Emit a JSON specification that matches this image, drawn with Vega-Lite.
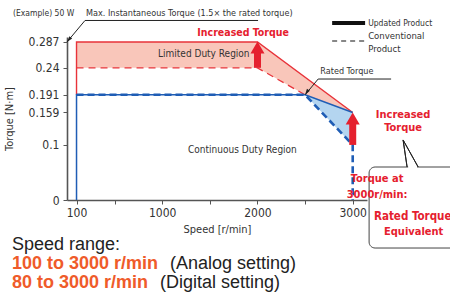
{
  "$schema": "https://vega.github.io/schema/vega-lite/v6.json",
  "width": 300,
  "height": 163,
  "autosize": "none",
  "padding": {"left": 67, "top": 37, "right": 83, "bottom": 98},
  "background": "white",
  "config": {
    "view": {"stroke": null},
    "axis": {"grid": false, "domainColor": "#555", "domainWidth": 1.6, "tickColor": "#555", "tickSize": 4, "labelColor": "#333", "titleColor": "#333", "labelFont": "Liberation Sans Narrow, DejaVu Sans Condensed, sans-serif", "titleFont": "Liberation Sans Narrow, DejaVu Sans Condensed, sans-serif", "labelFontSize": 12, "titleFontSize": 11, "titleFontWeight": "normal", "labelOverlap": false},
    "text": {"font": "Liberation Sans Narrow, DejaVu Sans Condensed, sans-serif"}
  },
  "datasets": {
    "pink": [
      {"speed": 100, "top": 0.287, "bottom": 0.24},
      {"speed": 2000, "top": 0.287, "bottom": 0.24},
      {"speed": 2500, "top": 0.223, "bottom": 0.191},
      {"speed": 3000, "top": 0.159, "bottom": 0.159}
    ],
    "blue": [
      {"speed": 2500, "top": 0.191, "bottom": 0.191},
      {"speed": 3000, "top": 0.159, "bottom": 0.1}
    ],
    "curves": [
      {"series": "updated max", "i": 1, "speed": 100, "torque": 0.191},
      {"series": "updated max", "i": 2, "speed": 100, "torque": 0.287},
      {"series": "updated max", "i": 3, "speed": 2000, "torque": 0.287},
      {"series": "updated max", "i": 4, "speed": 3000, "torque": 0.159},
      {"series": "updated rated", "i": 1, "speed": 100, "torque": 0},
      {"series": "updated rated", "i": 2, "speed": 100, "torque": 0.191},
      {"series": "updated rated", "i": 3, "speed": 2500, "torque": 0.191},
      {"series": "updated rated", "i": 4, "speed": 3000, "torque": 0.159},
      {"series": "conventional rated", "i": 1, "speed": 100, "torque": 0.191},
      {"series": "conventional rated", "i": 2, "speed": 2500, "torque": 0.191},
      {"series": "conventional rated", "i": 3, "speed": 3000, "torque": 0.1},
      {"series": "conventional rated", "i": 4, "speed": 3000, "torque": 0},
      {"series": "conventional max", "i": 1, "speed": 100, "torque": 0.24},
      {"series": "conventional max", "i": 2, "speed": 2000, "torque": 0.24},
      {"series": "conventional max", "i": 3, "speed": 2500, "torque": 0.191}
    ],
    "arrows": [
      {"speed": 2000, "from": 0.24, "to": 0.268, "head": 0.277},
      {"speed": 3000, "from": 0.1, "to": 0.138, "head": 0.148}
    ],
    "leaders": [
      {"id": "max", "i": 1, "speed": 0, "torque": 0.287},
      {"id": "max", "i": 2, "speed": 189, "torque": 0.326},
      {"id": "max", "i": 3, "speed": 2006, "torque": 0.326},
      {"id": "rated", "i": 1, "speed": 2500, "torque": 0.191},
      {"id": "rated", "i": 2, "speed": 2637, "torque": 0.2197},
      {"id": "rated", "i": 3, "speed": 3403, "torque": 0.2197},
      {"id": "pointer", "i": 1, "speed": 3571, "torque": 0.0599},
      {"id": "pointer", "i": 2, "speed": 3529, "torque": 0.109},
      {"id": "pointer", "i": 3, "speed": 3687, "torque": 0.0599}
    ],
    "heads": [
      {"speed": 0, "torque": 0.287, "angle": 219},
      {"speed": 2500, "torque": 0.191, "angle": 214}
    ],
    "legend": [
      {"kind": "Updated Product", "x1": 2784, "x2": 3130, "y": 0.3214},
      {"kind": "Conventional Product", "x1": 2784, "x2": 3130, "y": 0.2887}
    ],
    "box": [{"x1": 3172, "x2": 4200, "y1": 0.0599, "y2": -0.0872}],
    "gap": [{"x1": 3582, "x2": 3676, "y": 0.0599}],
    "labels": [
      {"text": "(Example) 50 W", "speed": -567, "torque": 0.339, "style": "small"},
      {"text": "Max. Instantaneous Torque (1.5× the rated torque)", "speed": 200, "torque": 0.339, "style": "note"},
      {"text": "Updated Product", "speed": 3162, "torque": 0.3214, "style": "small"},
      {"text": "Conventional", "speed": 3162, "torque": 0.297, "style": "legend"},
      {"text": "Product", "speed": 3162, "torque": 0.274, "style": "legend"},
      {"text": "Limited Duty Region", "speed": 956, "torque": 0.265, "style": "region"},
      {"text": "Continuous Duty Region", "speed": 1271, "torque": 0.0908, "style": "region"},
      {"text": "Rated Torque", "speed": 2660, "torque": 0.234, "style": "note"}
    ],
    "red": [
      {"text": "Increased Torque", "speed": 1849, "torque": 0.303, "size": "big", "align": "center"},
      {"text": "Increased", "speed": 3529, "torque": 0.154, "size": "mid", "align": "center"},
      {"text": "Torque", "speed": 3529, "torque": 0.131, "size": "mid", "align": "center"},
      {"text": "Torque at", "speed": 3256, "torque": 0.0381, "size": "mid", "align": "left"},
      {"text": "3000r/min:", "speed": 3256, "torque": 0.0091, "size": "mid", "align": "left"},
      {"text": "Rated Torque", "speed": 3630, "torque": -0.0309, "size": "fit", "align": "center"},
      {"text": "Equivalent", "speed": 3640, "torque": -0.0581, "size": "mid", "align": "center"}
    ],
    "bottom": [
      {"text": "Speed range:", "speed": -578, "torque": -0.0817, "weight": "normal"},
      {"text": "100 to 3000 r/min", "speed": -578, "torque": -0.1162, "weight": "bold"},
      {"text": "(Analog setting)", "speed": 1082, "torque": -0.1162, "weight": "normal"},
      {"text": "80 to 3000 r/min", "speed": -578, "torque": -0.1507, "weight": "bold"},
      {"text": "(Digital setting)", "speed": 977, "torque": -0.1507, "weight": "normal"}
    ]
  },
  "layer": [
    {
      "data": {"name": "pink"},
      "mark": {"type": "area", "color": "#f9c6ba", "opacity": 1},
      "encoding": {
        "x": {"field": "speed", "type": "quantitative", "scale": {"domain": [0, 3150], "nice": false, "zero": false},
          "axis": {"title": "Speed [r/min]", "values": [100, 500, 1000, 1500, 2000, 2500, 3000], "tickCount": 20, "labelExpr": "datum.value == 500 || datum.value == 1500 || datum.value == 2500 ? '' : '' + datum.value", "labelPadding": 3, "titlePadding": 5, "labelOverlap": false}},
        "y": {"field": "top", "type": "quantitative", "scale": {"domain": [0, 0.296], "nice": false, "zero": false},
          "axis": {"title": "Torque [N·m]", "values": [0, 0.1, 0.159, 0.191, 0.24, 0.287], "tickCount": 20, "labelExpr": "'' + datum.value", "labelPadding": 4, "titlePadding": 14, "labelOverlap": false}},
        "y2": {"field": "bottom"}
      }
    },
    {
      "data": {"name": "blue"},
      "mark": {"type": "area", "color": "#b4d5f0", "opacity": 1},
      "encoding": {
        "x": {"field": "speed", "type": "quantitative"},
        "y": {"field": "top", "type": "quantitative"},
        "y2": {"field": "bottom"}
      }
    },
    {
      "data": {"name": "curves"},
      "transform": [{"filter": "datum.series == 'conventional max'"}],
      "mark": {"type": "line", "color": "#e8333a", "strokeWidth": 1.3, "strokeDash": [7, 5]},
      "encoding": {"x": {"field": "speed", "type": "quantitative"}, "y": {"field": "torque", "type": "quantitative"}, "order": {"field": "i"}}
    },
    {
      "data": {"name": "curves"},
      "transform": [{"filter": "datum.series == 'updated max'"}],
      "mark": {"type": "line", "color": "#e8333a", "strokeWidth": 1.4},
      "encoding": {"x": {"field": "speed", "type": "quantitative"}, "y": {"field": "torque", "type": "quantitative"}, "order": {"field": "i"}}
    },
    {
      "data": {"name": "curves"},
      "transform": [{"filter": "datum.series == 'updated rated'"}],
      "mark": {"type": "line", "color": "#1f5db5", "strokeWidth": 1.5},
      "encoding": {"x": {"field": "speed", "type": "quantitative"}, "y": {"field": "torque", "type": "quantitative"}, "order": {"field": "i"}}
    },
    {
      "data": {"name": "curves"},
      "transform": [{"filter": "datum.series == 'conventional rated'"}],
      "mark": {"type": "line", "color": "#1f5db5", "strokeWidth": 2.6, "strokeDash": [7, 4]},
      "encoding": {"x": {"field": "speed", "type": "quantitative"}, "y": {"field": "torque", "type": "quantitative"}, "order": {"field": "i"}}
    },
    {
      "data": {"name": "arrows"},
      "mark": {"type": "rule", "color": "#e5202e", "strokeWidth": 7},
      "encoding": {"x": {"field": "speed", "type": "quantitative"}, "y": {"field": "from", "type": "quantitative"}, "y2": {"field": "to"}}
    },
    {
      "data": {"name": "arrows"},
      "mark": {"type": "point", "shape": "M-1,0.85L0,-0.85L1,0.85Z", "size": 196, "filled": true, "color": "#e5202e", "opacity": 1},
      "encoding": {"x": {"field": "speed", "type": "quantitative"}, "y": {"field": "head", "type": "quantitative"}}
    },
    {
      "data": {"name": "leaders"},
      "mark": {"type": "line", "color": "#222", "strokeWidth": 1, "clip": false},
      "encoding": {"x": {"field": "speed", "type": "quantitative"}, "y": {"field": "torque", "type": "quantitative"}, "detail": {"field": "id"}, "order": {"field": "i"}}
    },
    {
      "data": {"name": "heads"},
      "mark": {"type": "point", "shape": "M0,0L-0.6,2L0.6,2Z", "size": 36, "filled": true, "color": "#222", "opacity": 1},
      "encoding": {"x": {"field": "speed", "type": "quantitative"}, "y": {"field": "torque", "type": "quantitative"}, "angle": {"field": "angle", "type": "quantitative", "scale": null}}
    },
    {
      "data": {"name": "legend"},
      "transform": [{"filter": "datum.kind == 'Updated Product'"}],
      "mark": {"type": "rule", "color": "#111", "strokeWidth": 4, "clip": false},
      "encoding": {"x": {"field": "x1", "type": "quantitative"}, "x2": {"field": "x2"}, "y": {"field": "y", "type": "quantitative"}}
    },
    {
      "data": {"name": "legend"},
      "transform": [{"filter": "datum.kind == 'Conventional Product'"}],
      "mark": {"type": "rule", "color": "#111", "strokeWidth": 1.2, "strokeDash": [5, 4], "clip": false},
      "encoding": {"x": {"field": "x1", "type": "quantitative"}, "x2": {"field": "x2"}, "y": {"field": "y", "type": "quantitative"}}
    },
    {
      "data": {"name": "box"},
      "mark": {"type": "rect", "fill": "white", "stroke": "#444", "strokeWidth": 1, "cornerRadius": 6, "clip": false},
      "encoding": {"x": {"field": "x1", "type": "quantitative"}, "x2": {"field": "x2"}, "y": {"field": "y1", "type": "quantitative"}, "y2": {"field": "y2"}}
    },
    {
      "data": {"name": "gap"},
      "mark": {"type": "rule", "color": "white", "strokeWidth": 2.5, "clip": false},
      "encoding": {"x": {"field": "x1", "type": "quantitative"}, "x2": {"field": "x2"}, "y": {"field": "y", "type": "quantitative"}}
    },
    {
      "data": {"name": "leaders"},
      "transform": [{"filter": "datum.id == 'pointer'"}],
      "mark": {"type": "line", "color": "#222", "strokeWidth": 1, "clip": false},
      "encoding": {"x": {"field": "speed", "type": "quantitative"}, "y": {"field": "torque", "type": "quantitative"}, "order": {"field": "i"}}
    },
    {
      "data": {"name": "labels"},
      "mark": {"type": "text", "align": "left", "baseline": "middle", "color": "#333"},
      "encoding": {
        "x": {"field": "speed", "type": "quantitative"},
        "y": {"field": "torque", "type": "quantitative"},
        "text": {"field": "text"},
        "align": {"condition": {"test": "datum.style == 'region'", "value": "center"}, "value": "left"},
        "size": {"field": "style", "type": "nominal", "scale": {"domain": ["small", "note", "legend", "region"], "range": [8.5, 11.5, 13, 13]}, "legend": null}
      }
    },
    {
      "data": {"name": "red"},
      "mark": {"type": "text", "baseline": "middle", "color": "#e5202e", "fontWeight": "bold", "font": "Liberation Sans Narrow, DejaVu Sans Condensed, sans-serif"},
      "encoding": {
        "x": {"field": "speed", "type": "quantitative"},
        "y": {"field": "torque", "type": "quantitative"},
        "text": {"field": "text"},
        "align": {"condition": {"test": "datum.align == 'left'", "value": "left"}, "value": "center"},
        "size": {"field": "size", "type": "nominal", "scale": {"domain": ["big", "mid", "fit"], "range": [14.5, 12, 11.5]}, "legend": null}
      }
    },
    {
      "data": {"name": "bottom"},
      "transform": [{"filter": "datum.weight == 'normal'"}],
      "mark": {"type": "text", "align": "left", "baseline": "middle", "fontSize": 18, "font": "Liberation Sans, Arial, sans-serif", "color": "#222222"},
      "encoding": {
        "x": {"field": "speed", "type": "quantitative"},
        "y": {"field": "torque", "type": "quantitative"},
        "text": {"field": "text"}
      }
    },
    {
      "data": {"name": "bottom"},
      "transform": [{"filter": "datum.weight == 'bold'"}],
      "mark": {"type": "text", "align": "left", "baseline": "middle", "fontSize": 18, "fontWeight": "bold", "font": "Liberation Sans, Arial, sans-serif", "color": "#ef5b2a"},
      "encoding": {
        "x": {"field": "speed", "type": "quantitative"},
        "y": {"field": "torque", "type": "quantitative"},
        "text": {"field": "text"}
      }
    }
  ]
}
